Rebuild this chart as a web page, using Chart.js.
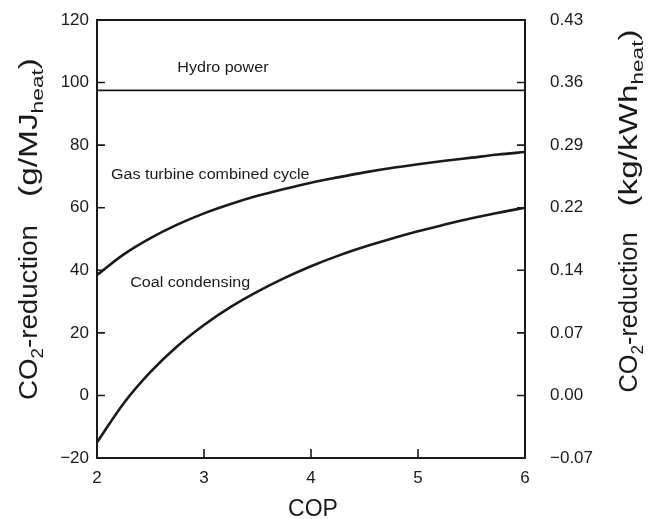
<!DOCTYPE html>
<html><head><meta charset="utf-8">
<script src="https://cdn.jsdelivr.net/npm/chart.js@4/dist/chart.umd.min.js"></script>
<style>html,body{margin:0;padding:0;background:#fff}canvas{display:block}</style>
</head><body>
<canvas id="c" width="648" height="519"></canvas>
<script>
// ---- data ----
const copValues      = [2, 2.25, 2.5, 2.75, 3, 3.25, 3.5, 3.75, 4, 4.25, 4.5, 4.75, 5, 5.25, 5.5, 5.75, 6];
const gasTurbineCC   = [38.5, 45.1, 50.3, 54.6, 58.2, 61.2, 63.8, 66.0, 68.0, 69.7, 71.3, 72.7, 73.9, 75.0, 76.0, 77.0, 77.8];
const coalCondensing = [-15, -2.5, 7.5, 15.7, 22.5, 28.3, 33.2, 37.5, 41.3, 44.6, 47.5, 50.1, 52.5, 54.6, 56.6, 58.4, 60];
const hydroCOP       = [2, 6];
const hydroPower     = [97.5, 97.5];
const xTickValues    = [2, 3, 4, 5, 6];
const leftTickValues = [-20, 0, 20, 40, 60, 80, 100, 120];
const rightTickLabels = ['\u22120.07', '0.00', '0.07', '0.14', '0.22', '0.29', '0.36', '0.43'];
const curveLabelText = ['Hydro power', 'Gas turbine combined cycle', 'Coal condensing'];
const curveLabelCOP  = [2.75, 2.13, 2.31];
const curveLabelVal  = [104.6, 70.4, 35.9];

const INK = '#1a1a1a';
const FONT = '"Liberation Sans", Arial, Helvetica, sans-serif';

function pts(xs, ys) { return xs.map((x, i) => ({x: x, y: ys[i]})); }

const decor = {
  id: 'decor',
  afterDraw(chart) {
    const c = chart.ctx, a = chart.chartArea;
    const sx = chart.scales.x, sy = chart.scales.y, sy2 = chart.scales.y2;
    c.save();
    // frame
    c.strokeStyle = INK; c.lineWidth = 2;
    c.strokeRect(a.left, a.top, a.right - a.left, a.bottom - a.top);
    // inward ticks
    c.lineWidth = 1.6;
    c.beginPath();
    sy.ticks.forEach(t => {
      if (t.value <= sy.min || t.value >= sy.max) return;
      const y = sy.getPixelForValue(t.value);
      c.moveTo(a.left, y); c.lineTo(a.left + 8, y);
    });
    sy2.ticks.forEach(t => {
      if (t.value <= sy2.min || t.value >= sy2.max) return;
      const y = sy2.getPixelForValue(t.value);
      c.moveTo(a.right, y); c.lineTo(a.right - 8, y);
    });
    sx.ticks.forEach(t => {
      if (t.value <= sx.min || t.value >= sx.max) return;
      const x = sx.getPixelForValue(t.value);
      c.moveTo(x, a.bottom); c.lineTo(x, a.bottom - 9);
    });
    c.stroke();

    // curve labels
    c.fillStyle = INK;
    c.textBaseline = 'middle'; c.textAlign = 'left';
    c.font = '14px ' + FONT;
    curveLabelText.forEach((txt, i) => {
      const x = sx.getPixelForValue(curveLabelCOP[i]);
      const y = sy.getPixelForValue(curveLabelVal[i]);
      c.save(); c.translate(x, y); c.scale(1.15, 1); c.fillText(txt, 0, 0); c.restore();
    });

    // x axis title
    c.font = '23px ' + FONT; c.textAlign = 'center'; c.textBaseline = 'alphabetic';
    c.fillText('COP', (a.left + a.right) / 2 + 2, 516);

    // rotated y titles with subscripts
    function rotTitle(baseX, centerY, unitMain, len1, gap, len2) {
      const F = 25, S = 17;
      const p1 = [['CO', F, 0], ['2', S, 6], ['-reduction', F, 0]];
      const p2 = [['(' + unitMain, F, 0], ['heat', S, 6], [')', F, 0]];
      const w = parts => parts.reduce((s, p) => { c.font = p[1] + 'px ' + FONT; return s + c.measureText(p[0]).width; }, 0);
      const k1 = len1 / w(p1), k2 = len2 / w(p2);
      const total = len1 + gap + len2;
      c.save();
      c.translate(baseX, centerY);
      c.rotate(-Math.PI / 2);
      c.textAlign = 'left'; c.textBaseline = 'alphabetic';
      let pos = -total / 2;
      const drawParts = (parts, k) => {
        parts.forEach(p => {
          c.font = p[1] + 'px ' + FONT;
          const ww = c.measureText(p[0]).width;
          c.save(); c.translate(pos, p[2]); c.scale(k, 1); c.fillText(p[0], 0, 0); c.restore();
          pos += ww * k;
        });
      };
      drawParts(p1, k1);
      pos += gap;
      drawParts(p2, k2);
      c.restore();
    }
    rotTitle(37, 229, 'g/MJ', 175, 28, 139);
    rotTitle(637, 211, 'kg/kWh', 160, 26, 177);
    c.restore();
  }
};

new Chart(document.getElementById('c'), {
  type: 'line',
  data: {
    datasets: [
      {label: 'Hydro power', data: pts(hydroCOP, hydroPower), borderColor: INK, borderWidth: 1.6, pointRadius: 0, yAxisID: 'y'},
      {label: 'Gas turbine combined cycle', data: pts(copValues, gasTurbineCC), borderColor: INK, borderWidth: 2.6, pointRadius: 0, cubicInterpolationMode: 'monotone', yAxisID: 'y'},
      {label: 'Coal condensing', data: pts(copValues, coalCondensing), borderColor: INK, borderWidth: 2.6, pointRadius: 0, cubicInterpolationMode: 'monotone', yAxisID: 'y'}
    ]
  },
  options: {
    responsive: false, animation: false, devicePixelRatio: 1,
    layout: {padding: {top: 20, left: 0, right: 0, bottom: 0}},
    plugins: {legend: {display: false}, tooltip: {enabled: false}},
    scales: {
      x: {
        type: 'linear', position: 'bottom', min: 2, max: 6,
        afterBuildTicks: s => { s.ticks = xTickValues.map(v => ({value: v})); },
        ticks: {font: {size: 17, family: FONT}, color: INK, padding: 10, maxRotation: 0},
        grid: {display: false, drawTicks: false}, border: {display: false},
        afterFit: s => { s.height = 61; s.paddingLeft = 0; s.paddingRight = 0; }
      },
      y: {
        position: 'left', min: -20, max: 120,
        afterBuildTicks: s => { s.ticks = leftTickValues.map(v => ({value: v})); },
        ticks: {font: {size: 17, family: FONT}, color: INK, padding: 8,
          callback: v => v < 0 ? '\u2212' + Math.abs(v) : String(v)},
        grid: {display: false, drawTicks: false}, border: {display: false},
        afterFit: s => { s.width = 97; s.paddingTop = 0; s.paddingBottom = 0; }
      },
      y2: {
        position: 'right', min: -20, max: 120,
        afterBuildTicks: s => { s.ticks = leftTickValues.map(v => ({value: v})); },
        ticks: {font: {size: 17, family: FONT}, color: INK, padding: 25, crossAlign: 'near',
          callback: (v, i) => rightTickLabels[i]},
        grid: {display: false, drawTicks: false}, border: {display: false},
        afterFit: s => { s.width = 123; s.paddingTop = 0; s.paddingBottom = 0; }
      }
    }
  },
  plugins: [decor]
});
</script>
</body></html>
